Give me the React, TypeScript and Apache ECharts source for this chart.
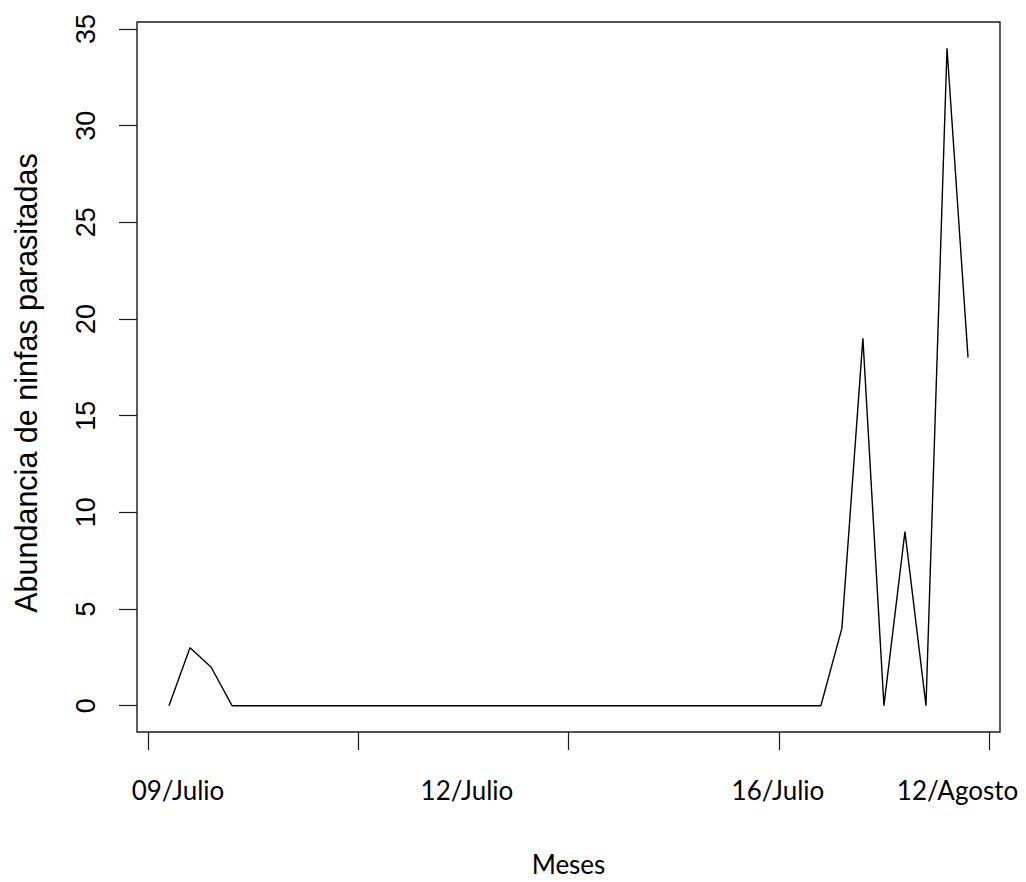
import React, { useEffect, useRef } from "react";
import * as echarts from "echarts";

// Sampling index (1..39) and abundance of parasitized nymphs
const sampleIndex = [
  1, 2, 3, 4, 5, 6, 7, 8, 9, 10, 11, 12, 13, 14, 15, 16, 17, 18, 19, 20,
  21, 22, 23, 24, 25, 26, 27, 28, 29, 30, 31, 32, 33, 34, 35, 36, 37, 38, 39,
];
const abundance = [
  0, 3, 2, 0, 0, 0, 0, 0, 0, 0, 0, 0, 0, 0, 0, 0, 0, 0, 0, 0,
  0, 0, 0, 0, 0, 0, 0, 0, 0, 0, 0, 0, 4, 19, 0, 9, 0, 34, 18,
];

const xTickValues = [0, 10, 20, 30, 40];
const xLabelTexts = ["09/Julio", "12/Julio", "16/Julio", "12/Agosto"];
const xLabelAt = [1.43, 15.17, 29.96, 38.5];
const yTickValues = [0, 5, 10, 15, 20, 25, 30, 35];

const yTitle = "Abundancia de ninfas parasitadas";
const xTitle = "Meses";

export default function App() {
  const ref = useRef<HTMLDivElement>(null);
  useEffect(() => {
    if (!ref.current) return;
    const chart = echarts.init(ref.current, null, { renderer: "svg" });
    const data = sampleIndex.map((x, i) => [x, abundance[i]]);
    chart.setOption({
      animation: false,
      backgroundColor: "#ffffff",
      grid: {
        left: 137,
        right: 26,
        top: 22,
        bottom: 148,
        show: true,
        borderColor: "#1a1a1a",
        borderWidth: 1.4,
        backgroundColor: "transparent",
      },
      xAxis: {
        type: "value",
        min: -0.52,
        max: 40.52,
        name: xTitle,
        nameLocation: "middle",
        nameGap: 119,
        nameTextStyle: {
          fontFamily: "Lato",
          fontSize: 26,
          color: "#000",
        },
        axisLine: { show: false, onZero: false },
        splitLine: { show: false },
        axisTick: {
          show: true,
          customValues: xTickValues,
          length: 18,
          lineStyle: { color: "#1a1a1a", width: 1.2 },
        },
        axisLabel: {
          show: true,
          customValues: xLabelAt,
          margin: 45,
          fontFamily: "Lato",
          fontSize: 26,
          color: "#000",
          formatter: (v: number) => {
            const i = xLabelAt.findIndex((p) => Math.abs(p - v) < 1e-6);
            return i >= 0 ? xLabelTexts[i] : "";
          },
        },
      },
      yAxis: {
        type: "value",
        min: -1.36,
        max: 35.36,
        name: yTitle,
        nameLocation: "middle",
        nameGap: 96,
        nameRotate: 90,
        nameTextStyle: {
          fontFamily: "Liberation Sans",
          fontSize: 30.5,
          color: "#000",
          padding: [0, 12, 0, 0],
        },
        axisLine: { show: false, onZero: false },
        splitLine: { show: false },
        axisTick: {
          show: true,
          customValues: yTickValues,
          length: 18,
          lineStyle: { color: "#1a1a1a", width: 1.2 },
        },
        axisLabel: {
          show: true,
          customValues: yTickValues,
          rotate: 90,
          margin: 38,
          fontFamily: "Liberation Sans",
          fontSize: 27,
          color: "#000",
        },
      },
      series: [
        {
          type: "line",
          data,
          showSymbol: false,
          symbol: "none",
          lineStyle: { color: "#000", width: 1.4 },
        },
      ],
    });
    return () => chart.dispose();
  }, []);
  return <div ref={ref} style={{ width: 1026, height: 882, position: "absolute", left: 0, top: 0 }} />;
}
